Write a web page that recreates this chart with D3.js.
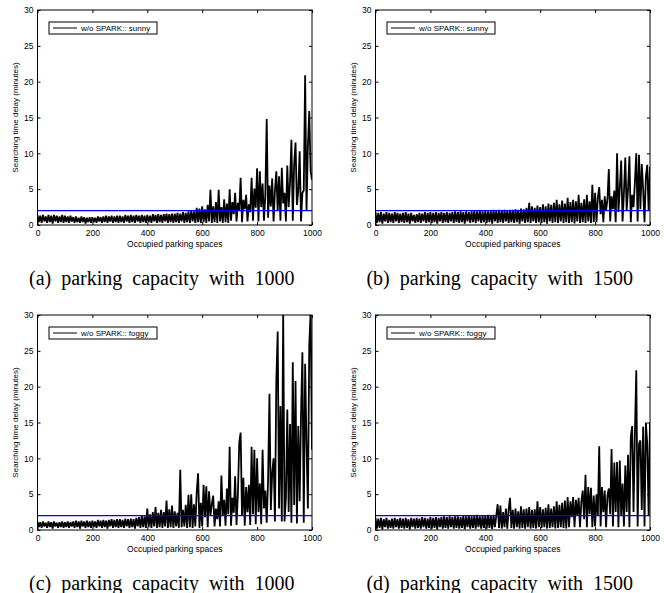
<!DOCTYPE html>
<html>
<head>
<meta charset="utf-8">
<script src="https://cdn.jsdelivr.net/npm/d3@7"></script>
<style>
  body { margin: 0; background: #fff; }
  svg { display: block; }
</style>
</head>
<body>
<div id="chart"></div>
<script>
// x positions (occupied parking spaces), one sample every 5 spaces
var spaces = d3.range(0, 1001, 5);

// searching time delay (minutes)
var sunny1000 = [
  1.4,0.4,1.3,0.3,1.4,0.5,1.2,0.3,1.4,0.4,1.3,0.2,1.4,0.5,1.3,0.3,1.2,0.4,1.4,0.3,
  1.3,0.4,1.2,0.3,1.3,0.5,1.1,0.3,1.2,0.4,1.0,0.3,1.2,0.4,1.1,0.2,1.0,0.4,1.1,0.3,
  1.1,0.4,1.0,0.3,1.2,0.5,1.1,0.3,1.2,0.4,1.3,0.3,1.2,0.5,1.3,0.3,1.2,0.4,1.3,0.3,
  1.3,0.4,1.2,0.3,1.4,0.5,1.3,0.3,1.4,0.4,1.3,0.3,1.4,0.5,1.3,0.3,1.4,0.4,1.3,0.3,
  1.4,0.4,1.3,0.3,1.5,0.5,1.4,0.3,1.5,0.4,1.4,0.3,1.5,0.5,1.6,0.3,1.5,0.4,1.6,0.3,
  1.6,0.4,1.7,0.3,1.6,0.5,1.8,0.3,1.7,0.4,1.9,0.3,2.0,0.5,1.9,0.3,2.4,0.4,2.3,0.3,
  2.6,0.4,2.2,0.3,2.8,0.5,4.9,0.3,2.6,0.4,3.2,0.3,4.9,0.5,2.5,0.3,3.6,0.4,3.0,0.3,
  5.0,0.6,3.2,1.5,4.5,0.5,3.1,2.0,6.6,0.4,3.5,2.2,4.2,0.5,2.9,1.8,6.6,0.6,5.1,2.4,
  7.9,0.5,7.5,2.5,5.8,0.6,4.2,14.8,1.0,5.5,2.6,6.5,0.5,4.8,7.5,2.0,6.8,0.6,8.0,3.0,
  4.5,0.5,8.3,2.5,6.0,11.9,0.6,8.5,11.5,2.8,4.8,10.3,0.5,4.5,4.8,20.9,2.0,11.0,15.9,7.5,
  6.3
];

var sunny1500 = [
  1.8,0.3,1.7,0.4,1.8,0.2,1.6,0.5,1.8,0.3,1.7,0.4,1.6,0.3,1.8,0.5,1.7,0.3,1.6,0.4,
  1.7,0.3,1.8,0.4,1.6,0.2,1.7,0.5,1.4,0.3,1.5,0.4,1.7,0.3,1.6,0.5,1.8,0.3,1.7,0.4,
  1.8,0.3,1.7,0.4,1.8,0.2,1.7,0.5,1.8,0.3,1.7,0.4,1.8,0.3,1.7,0.5,1.8,0.3,1.9,0.4,
  1.8,0.3,1.9,0.4,1.8,0.2,1.9,0.5,1.8,0.3,1.9,0.4,2.0,0.3,1.9,0.5,2.0,0.3,1.9,0.4,
  2.0,0.3,1.9,0.4,2.0,0.2,2.1,0.5,2.0,0.3,2.1,0.4,2.0,0.3,2.1,0.5,2.0,0.3,2.1,0.4,
  2.1,0.3,2.2,0.4,2.1,0.2,2.3,0.5,2.2,0.3,2.4,0.4,3.1,0.3,2.6,0.5,2.4,0.3,2.7,0.4,
  2.5,0.3,2.9,0.4,2.6,0.2,3.0,0.5,2.8,0.3,3.1,0.4,3.5,0.3,2.9,0.5,3.4,0.3,3.0,0.4,
  3.8,0.3,3.2,0.4,3.5,0.2,3.3,0.5,4.2,0.3,3.1,0.4,3.6,0.3,4.2,0.5,3.3,0.3,5.6,0.4,
  4.5,0.4,3.8,5.3,1.5,3.5,0.4,4.0,2.0,3.6,7.8,0.5,4.0,2.2,4.8,0.4,10.0,1.8,5.2,9.0,
  0.5,4.5,9.4,2.0,5.0,9.6,0.4,4.2,2.5,6.0,10.0,0.5,9.8,2.2,8.5,5.0,0.4,6.8,8.4,2.0,
  8.1
];

var foggy1000 = [
  1.2,0.4,1.1,0.3,1.2,0.5,1.0,0.3,1.2,0.4,1.1,0.2,1.2,0.5,1.0,0.3,1.1,0.4,1.2,0.3,
  1.1,0.4,1.2,0.3,1.1,0.5,1.2,0.3,1.3,0.4,1.2,0.2,1.3,0.5,1.2,0.3,1.3,0.4,1.2,0.3,
  1.3,0.4,1.2,0.3,1.4,0.5,1.3,0.3,1.4,0.4,1.3,0.2,1.4,0.5,1.5,0.3,1.4,0.4,1.5,0.3,
  1.5,0.4,1.4,0.3,1.6,0.5,1.5,0.3,1.6,0.4,1.5,0.2,1.7,0.5,1.8,0.3,2.0,0.4,1.9,0.3,
  3.0,0.4,2.2,0.3,2.5,0.5,3.2,0.3,2.4,0.4,2.8,0.3,2.5,0.5,4.1,0.3,2.9,0.4,3.4,0.3,
  2.6,0.5,2.4,0.3,8.4,0.4,2.8,0.5,3.5,0.3,4.9,0.4,5.0,0.3,3.6,0.5,5.3,7.9,0.3,3.8,
  0.5,6.3,1.8,6.1,0.4,5.4,2.0,3.6,4.8,0.5,3.0,1.5,4.0,0.5,7.6,2.0,4.2,0.6,5.8,2.2,
  11.6,0.6,4.5,2.4,7.5,0.7,5.0,12.2,13.6,2.0,7.3,0.6,6.0,2.5,6.3,0.7,11.6,2.2,11.2,0.8,
  10.0,2.5,6.5,0.8,11.2,3.0,5.5,1.0,7.0,19.0,2.8,8.0,10.0,1.2,20.8,27.7,3.0,17.3,1.2,30.5,
  1.2,4.5,16.8,2.5,14.8,1.0,23.4,3.5,20.8,0.9,14.5,4.0,16.0,24.8,1.0,23.2,12.0,3.0,25.7,30.5,
  11.2
];

var foggy1500 = [
  1.7,0.2,1.6,0.3,1.7,0.1,1.5,0.4,1.7,0.2,1.4,0.3,1.6,0.2,1.7,0.4,1.5,0.2,1.7,0.3,
  1.6,0.2,1.7,0.3,1.5,0.1,1.7,0.4,1.6,0.2,1.7,0.3,1.6,0.2,1.8,0.4,1.7,0.2,1.6,0.3,
  1.8,0.2,1.7,0.3,1.8,0.1,1.7,0.4,1.8,0.2,1.9,0.3,1.8,0.2,1.9,0.4,1.8,0.2,1.9,0.3,
  1.9,0.2,1.8,0.3,2.0,0.1,1.9,0.4,2.0,0.2,1.9,0.3,2.0,0.2,2.1,0.4,1.9,0.2,2.0,0.3,
  2.0,0.2,2.1,0.3,2.0,0.1,2.1,0.4,2.0,3.6,0.3,3.4,0.2,2.5,0.4,3.0,0.2,2.8,4.5,0.3,
  2.8,0.2,3.0,0.4,2.6,0.2,3.3,0.3,2.9,0.2,3.0,0.4,3.2,0.2,2.8,0.3,2.9,0.2,4.0,0.4,
  3.2,0.3,2.9,0.4,3.1,0.2,3.6,0.3,3.0,0.4,3.3,0.2,4.0,0.3,3.5,0.4,3.8,0.3,4.1,0.2,
  4.6,0.4,4.0,1.8,4.6,0.4,4.2,2.0,4.5,0.4,4.0,5.5,1.5,7.7,0.4,6.0,2.2,5.9,0.4,4.8,
  0.5,5.0,2.0,11.7,0.5,6.0,2.5,5.5,0.4,4.8,5.8,2.2,11.3,0.5,9.4,2.5,9.5,0.4,9.7,2.0,
  6.5,0.5,9.0,2.5,10.5,0.4,13.0,14.5,2.5,13.5,22.3,0.5,12.0,12.5,2.8,14.4,0.5,15.0,12.0,2.0,
  15.0
];

// reference level drawn in blue
var threshold = 2;

var legendLabels = ["w/o SPARK:: sunny", "w/o SPARK:: sunny", "w/o SPARK:: foggy", "w/o SPARK:: foggy"];
var captions = ["(a) parking capacity with 1000", "(b) parking capacity with 1500",
                "(c) parking capacity with 1000", "(d) parking capacity with 1500"];
var xTicks = [0, 200, 400, 600, 800, 1000];
var yTicks = [0, 5, 10, 15, 20, 25, 30];

var series = [sunny1000, sunny1500, foggy1000, foggy1500];

var svgWidth = 664;
var svgHeight = 593;

var svg = d3.select("#chart")
  .append("svg")
  .attr("width", svgWidth)
  .attr("height", svgHeight);

// panel boxes: left / top corners of each plot area
var plotW = 274.5;
var plotH = 215;
var origins = [[37.5, 10], [375.5, 10], [37.5, 315], [375.5, 315]];

var tickFont = "'Liberation Sans', Arial, sans-serif";

series.forEach(function(vals, p) {
  var ox = origins[p][0];
  var oy = origins[p][1];

  var xScale = d3.scaleLinear().domain([0, 1000]).range([0, plotW]);
  var yScale = d3.scaleLinear().domain([0, 30]).range([plotH, 0]);

  var g = svg.append("g")
    .attr("transform", `translate(${ox}, ${oy})`);

  g.append("clipPath")
    .attr("id", "clip" + p)
    .append("rect")
    .attr("width", plotW)
    .attr("height", plotH);

  var line = d3.line()
    .x(function(d, i) { return xScale(spaces[i]); })
    .y(function(d) { return yScale(d); });

  // the samples are dense, so a heavier stroke closes the band like the original
  g.append("path")
    .datum(vals)
    .attr("clip-path", "url(#clip" + p + ")")
    .attr("d", line)
    .attr("fill", "none")
    .attr("stroke", "#000")
    .attr("stroke-width", 1.8)
    .attr("stroke-linejoin", "miter")
    .attr("stroke-miterlimit", 2);

  g.append("line")
    .attr("x1", xScale(0))
    .attr("x2", xScale(1000))
    .attr("y1", yScale(threshold))
    .attr("y2", yScale(threshold))
    .attr("stroke", "#0000ff")
    .attr("stroke-width", 1.4);

  // axes, matlab style: inward ticks on all four sides
  var xAxis = d3.axisBottom(xScale).tickValues(xTicks).tickSize(-3).tickPadding(5)
    .tickFormat(d3.format("d"));
  var yAxis = d3.axisLeft(yScale).tickValues(yTicks).tickSize(-3).tickPadding(4)
    .tickFormat(d3.format("d"));

  g.append("g")
    .attr("transform", `translate(0, ${plotH})`)
    .call(xAxis);
  g.append("g")
    .call(yAxis);

  g.append("g")
    .call(d3.axisTop(xScale).tickValues(xTicks).tickSize(-3).tickFormat(""));
  g.append("g")
    .attr("transform", `translate(${plotW}, 0)`)
    .call(d3.axisRight(yScale).tickValues(yTicks).tickSize(-3).tickFormat(""));

  g.selectAll(".domain").remove();
  g.selectAll(".tick line").attr("stroke", "#000");
  g.selectAll(".tick text")
    .attr("fill", "#000")
    .attr("font-family", tickFont)
    .attr("font-size", "8.5px");

  g.append("rect")
    .attr("width", plotW)
    .attr("height", plotH)
    .attr("fill", "none")
    .attr("stroke", "#000")
    .attr("stroke-width", 1);

  // legend
  var lg = g.append("g")
    .attr("transform", "translate(11.5, 12)");
  lg.append("rect")
    .attr("width", 108)
    .attr("height", 12)
    .attr("fill", "#fff")
    .attr("stroke", "#000")
    .attr("stroke-width", 1);
  lg.append("line")
    .attr("x1", 4)
    .attr("x2", 28)
    .attr("y1", 6)
    .attr("y2", 6)
    .attr("stroke", "#000")
    .attr("stroke-width", 1);
  lg.append("text")
    .attr("x", 32)
    .attr("y", 9)
    .attr("font-family", tickFont)
    .attr("font-size", "8px")
    .attr("fill", "#000")
    .text(legendLabels[p]);

  // axis titles
  g.append("text")
    .attr("x", plotW / 2)
    .attr("y", plotH + 22)
    .attr("text-anchor", "middle")
    .attr("font-family", tickFont)
    .attr("font-size", "8.5px")
    .attr("fill", "#000")
    .text("Occupied parking spaces");

  g.append("text")
    .attr("transform", "rotate(-90)")
    .attr("x", -plotH / 2)
    .attr("y", -19.5)
    .attr("text-anchor", "middle")
    .attr("font-family", tickFont)
    .attr("font-size", "8px")
    .attr("fill", "#000")
    .text("Searching time delay (minutes)");

  // sub-figure caption
  svg.append("text")
    .attr("x", ox + plotW / 2 - 13)
    .attr("y", oy + 275)
    .attr("text-anchor", "middle")
    .attr("font-family", "'Liberation Serif', 'Times New Roman', serif")
    .attr("font-size", "20px")
    .attr("word-spacing", "5px")
    .attr("fill", "#000")
    .text(captions[p]);
});
</script>
</body>
</html>
